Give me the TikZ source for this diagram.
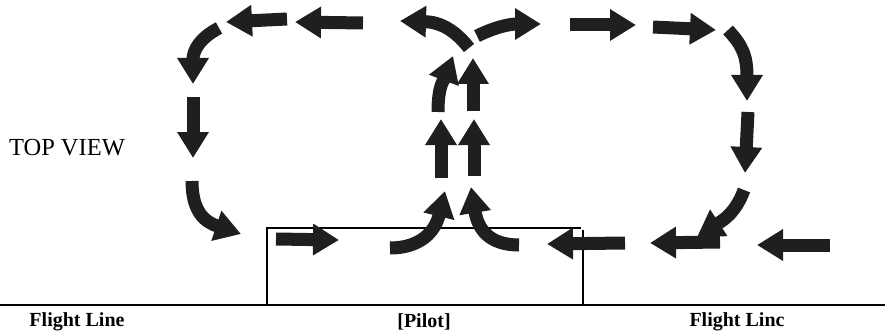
\documentclass[tikz,border=0pt]{standalone}
\usepackage{fontspec}
\setmainfont{Liberation Serif}
\usetikzlibrary{arrows.meta}
\begin{document}
\begin{tikzpicture}[x=1pt,y=-1pt,
  fat/.style={line width=13pt, line cap=butt, draw=black!88, -{Triangle[length=26pt,width=30pt]}},
  frame/.style={line width=1.3pt},
  lbl/.style={font=\bfseries\fontsize{20}{22}\selectfont, inner sep=0pt},
  side/.style={font=\fontsize{24.5}{27}\selectfont, inner sep=0pt}]
\useasboundingbox (0,0) rectangle (885,334);
% ground line and pilot box
\draw[frame] (0,305) -- (885,305);
\draw[frame] (267,305) -- (267,228) -- (581,228);
\draw[frame] (583,230) -- (583,305);
% labels
\node[lbl] (fl1) at (77,322) {Flight Line};
\node[lbl] (pilot) at (424,322) {[Pilot]};
\node[lbl] (fl2) at (737,322) {Flight Linc};
\node[side] (tv) at (67,148) {TOP VIEW};
% left loop
\draw[fat] (363,23) -- (295,22);
\draw[fat] (287,19) -- (226,22);
\draw[fat] (219,28) .. controls (200,38) and (193,50) .. (193,84);
\draw[fat] (193,97) -- (193,158);
\draw[fat] (192,181) .. controls (192,212) and (205,222) .. (241,234);
\draw[fat] (276,239) -- (339,240);
\draw[fat] (390,248) .. controls (420,248) and (435,232) .. (445,191);
% centre column
\draw[fat] (441,178) -- (441,119);
\draw[fat] (474,176) -- (474,119);
\draw[fat] (438,112) .. controls (438,85) and (444,80) .. (453,56);
\draw[fat] (473,111) -- (473,58);
\draw[fat] (469,48) .. controls (455,30) and (440,22) .. (400,21);
\draw[fat] (477,36) .. controls (495,27) and (510,24) .. (541,24);
% right loop
\draw[fat] (570,25) -- (636,25);
\draw[fat] (653,27) -- (716,30);
\draw[fat] (728,30) .. controls (742,45) and (747,55) .. (747,101);
\draw[fat] (748,112) -- (745,173);
\draw[fat] (744,190) .. controls (735,215) and (720,222) .. (697,237);
\draw[fat] (519,245) .. controls (490,245) and (478,230) .. (471,187);
\draw[fat] (625,243) -- (547,244);
\draw[fat] (720,242) -- (650,243);
\draw[fat] (830,245) -- (757,245);
\end{tikzpicture}
\end{document}
